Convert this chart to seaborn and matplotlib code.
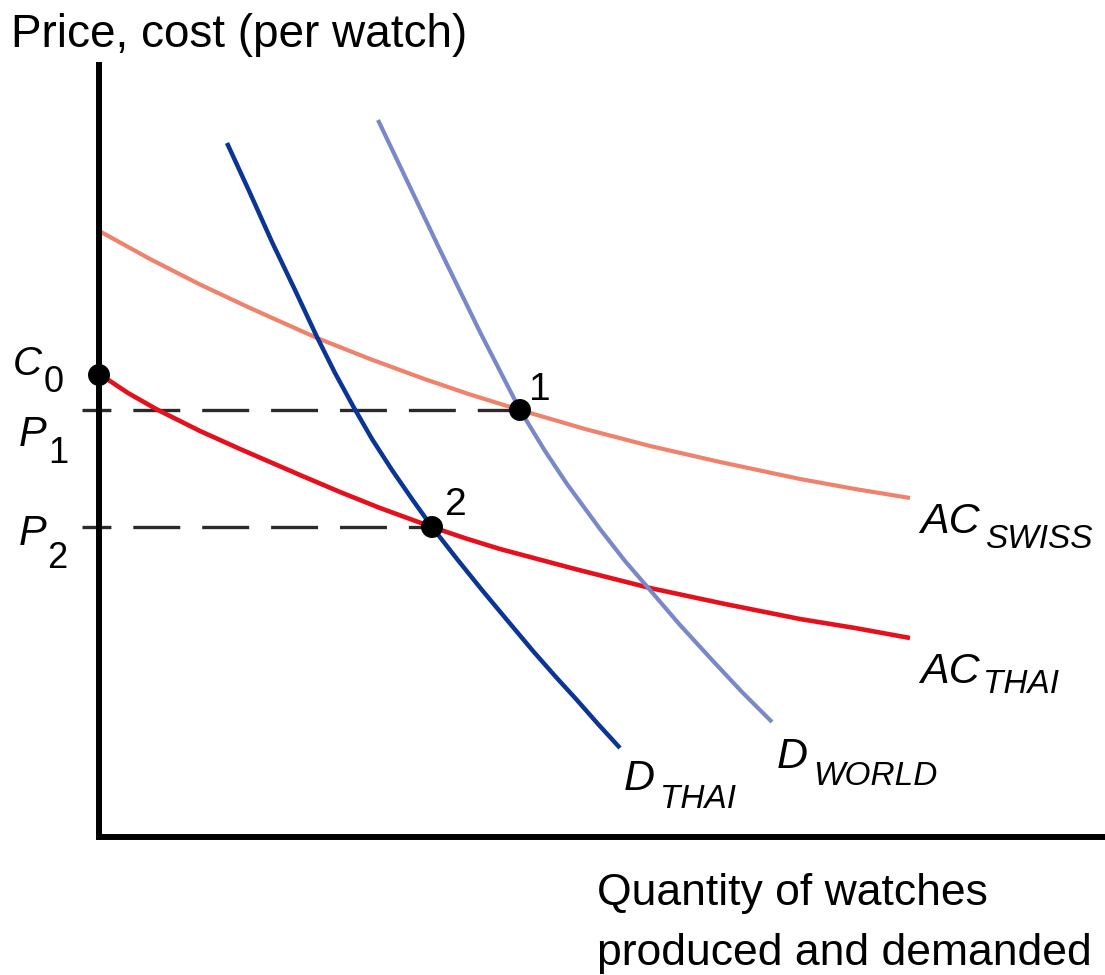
import matplotlib
matplotlib.use("Agg")
import matplotlib.pyplot as plt
import seaborn as sns
import numpy as np

sns.set_theme(style="white")
plt.rcParams['font.family'] = ['Liberation Sans', 'DejaVu Sans']
plt.rcParams['lines.scale_dashes'] = False
plt.rcParams['lines.solid_joinstyle'] = 'round'
plt.rcParams['lines.solid_capstyle'] = 'butt'

# ---- data (quantity, price) ----
ac_swiss_q = [0.2, 5.1, 10.1, 15.1, 21.8, 27.1, 32.4, 37.1, 42.1, 48.6, 55.1, 62.1, 70.1, 75.6, 81.1]
ac_swiss_p = [60.5, 57.8, 55.25, 52.9, 49.9, 47.8, 45.85, 44.25, 42.7, 40.8, 39.1, 37.5, 35.8, 34.8, 33.9]

ac_thai_q = [0.2, 2.9, 5.8, 10.1, 14.1, 20.1, 24.1, 28.1, 33.3, 36.7, 40.1, 47.6, 55.1, 62.6, 70.1, 75.6, 81.1]
ac_thai_p = [46.2, 44.4, 42.75, 40.6, 38.8, 36.2, 34.5, 32.9, 31.0, 29.85, 28.8, 26.8, 24.9, 23.3, 21.8, 20.9, 19.9]

d_thai_q = [12.8, 15.1, 17.3, 19.6, 21.8, 23.6, 25.4, 27.3, 29.3, 31.3, 33.3, 35.8, 38.3, 40.8, 43.4, 45.6, 47.7, 49.9, 52.1]
d_thai_p = [69.4, 64.4, 59.5, 54.7, 50.0, 46.4, 43.1, 39.8, 36.7, 33.8, 31.0, 27.8, 24.7, 21.7, 18.6, 16.1, 13.8, 11.3, 8.9]

d_world_q = [27.9, 31.1, 34.1, 38.1, 40.1, 42.1, 44.6, 46.8, 50.1, 52.6, 55.1, 58.1, 61.4, 64.3, 67.3]
d_world_p = [71.7, 65.0, 58.7, 50.5, 46.6, 42.7, 38.6, 35.3, 30.8, 27.6, 24.7, 21.2, 17.6, 14.5, 11.5]

point_names = ["C0", "1", "2"]
point_q = [0.0, 42.1, 33.3]
point_p = [46.2, 42.7, 31.0]

P1 = 42.7
P2 = 31.0

# ---- figure ----
W, H = 1105, 975
fig = plt.figure(figsize=(W / 100, H / 100), dpi=100)
x0, y0 = 99, 837      # origin in pixels
xtop = 65
ax = fig.add_axes([x0 / W, (H - y0) / H, (W - x0) / W, (y0 - xtop) / H])
ax.set_xlim(0, (W - x0) / 10)
ax.set_ylim(0, (y0 - xtop) / 10)
ax.set_xticks([])
ax.set_yticks([])
ax.set_facecolor('white')
for s in ['top', 'right']:
    ax.spines[s].set_visible(False)
for s in ['left', 'bottom']:
    ax.spines[s].set_linewidth(4.3)
    ax.spines[s].set_color('black')
    ax.spines[s].set_capstyle('projecting')
    ax.spines[s].set_zorder(10)

# dashed guide lines
dash = (13, (33.8, 15.8))
ax.plot([-1.7, point_q[1]], [P1, P1], color='#2a2a2a', lw=2.4, linestyle=dash, clip_on=False, zorder=2)
ax.plot([-1.7, point_q[2]], [P2, P2], color='#2a2a2a', lw=2.4, linestyle=dash, clip_on=False, zorder=2)

# curves
sns.lineplot(x=ac_swiss_q, y=ac_swiss_p, ax=ax, color='#f0826c', linewidth=3.0, sort=False, estimator=None, zorder=3)
sns.lineplot(x=ac_thai_q, y=ac_thai_p, ax=ax, color='#e5101c', linewidth=3.3, sort=False, estimator=None, zorder=4)
sns.lineplot(x=d_world_q, y=d_world_p, ax=ax, color='#7888c8', linewidth=3.0, sort=False, estimator=None, zorder=5)
sns.lineplot(x=d_thai_q, y=d_thai_p, ax=ax, color='#0a3596', linewidth=3.2, sort=False, estimator=None, zorder=6)

sns.scatterplot(x=point_q, y=point_p, ax=ax, color='black', s=250, edgecolor='none', clip_on=False, zorder=12)

# ---- text ----
def T(x, y, s, size, style='normal'):
    fig.text(x / W, 1 - y / H, s, fontsize=size, style=style, ha='left', va='baseline', color='black')

T(11, 47, "Price, cost (per watch)", 33)
T(597, 905, "Quantity of watches", 32)
T(597, 965, "produced and demanded", 32)

T(13, 375, "C", 29, 'italic')
T(44, 392, "0", 26)
T(19, 446, "P", 30, 'italic')
T(48, 463, "1", 26)
T(19, 545, "P", 30, 'italic')
T(47, 568, "2", 26)

T(529, 400, "1", 28)
T(445, 515, "2", 28)

T(920, 533, "AC", 31, 'italic')
T(985, 548, "SWISS", 24, 'italic')
T(920, 683, "AC", 31, 'italic')
T(983, 693, "THAI", 24, 'italic')
T(624, 790, "D", 31, 'italic')
T(660, 808, "THAI", 24, 'italic')
T(777, 768, "D", 31, 'italic')
T(813, 785, "WORLD", 24, 'italic')

fig.savefig("out.png", dpi=100, facecolor='white')
